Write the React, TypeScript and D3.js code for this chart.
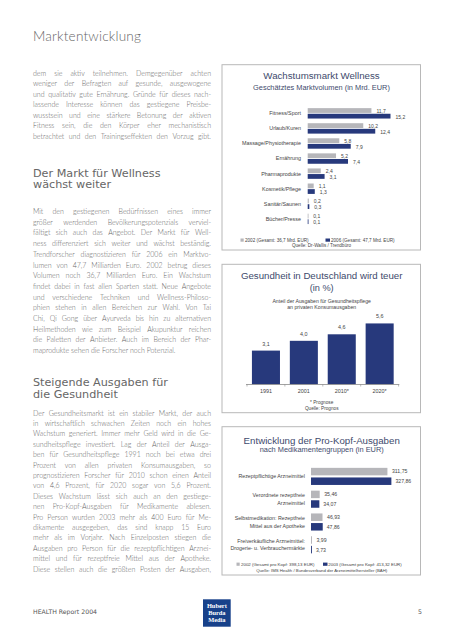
import React from 'react';
import * as d3 from 'd3';

// ---------- text content ----------
const pageTitle = 'Marktentwicklung';
const para1 = [
  'dem sie aktiv teilnehmen. Demgegenüber achten',
  'weniger der Befragten auf gesunde, ausgewogene',
  'und qualitativ gute Ernährung. Gründe für dieses nach-',
  'lassende Interesse können das gestiegene Preisbe-',
  'wusstsein und eine stärkere Betonung der aktiven',
  'Fitness sein, die den Körper eher mechanistisch',
  'betrachtet und den Trainingseffekten den Vorzug gibt.',
];
const heading1 = ['Der Markt für Wellness', 'wächst weiter'];
const para2 = [
  'Mit den gestiegenen Bedürfnissen eines immer',
  'größer werdenden Bevölkerungspotenzials verviel-',
  'fältigt sich auch das Angebot. Der Markt für Well-',
  'ness differenziert sich weiter und wächst beständig.',
  'Trendforscher diagnostizieren für 2006 ein Marktvo-',
  'lumen von 47,7 Milliarden Euro. 2002 betrug dieses',
  'Volumen noch 36,7 Milliarden Euro. Ein Wachstum',
  'findet dabei in fast allen Sparten statt. Neue Angebote',
  'und verschiedene Techniken und Wellness-Philoso-',
  'phien stehen in allen Bereichen zur Wahl. Von Tai',
  'Chi, Qi Gong über Ayurveda bis hin zu alternativen',
  'Heilmethoden wie zum Beispiel Akupunktur reichen',
  'die Paletten der Anbieter. Auch im Bereich der Phar-',
  'maprodukte sehen die Forscher noch Potenzial.',
];
const heading2 = ['Steigende Ausgaben für', 'die Gesundheit'];
const para3 = [
  'Der Gesundheitsmarkt ist ein stabiler Markt, der auch',
  'in wirtschaftlich schwachen Zeiten noch ein hohes',
  'Wachstum generiert. Immer mehr Geld wird in die Ge-',
  'sundheitspflege investiert. Lag der Anteil der Ausga-',
  'ben für Gesundheitspflege 1991 noch bei etwa drei',
  'Prozent von allen privaten Konsumausgaben, so',
  'prognostizieren Forscher für 2010 schon einen Anteil',
  'von 4,6 Prozent, für 2020 sogar von 5,6 Prozent.',
  'Dieses Wachstum lässt sich auch an den gestiege-',
  'nen Pro-Kopf-Ausgaben für Medikamente ablesen.',
  'Pro Person wurden 2003 mehr als 400 Euro für Me-',
  'dikamente ausgegeben, das sind knapp 15 Euro',
  'mehr als im Vorjahr. Nach Einzelposten stiegen die',
  'Ausgaben pro Person für die rezeptpflichtigen Arznei-',
  'mittel und für rezeptfreie Mittel aus der Apotheke.',
  'Diese stellen auch die größten Posten der Ausgaben,',
];

// ---------- chart 1 data ----------
const wellTitle = 'Wachstumsmarkt Wellness';
const wellSubtitle = 'Geschätztes Marktvolumen (in Mrd. EUR)';
const wellCats = [
  'Fitness/Sport',
  'Urlaub/Kuren',
  'Massage/Physiotherapie',
  'Ernährung',
  'Pharmaprodukte',
  'Kosmetik/Pflege',
  'Sanitär/Saunen',
  'Bücher/Presse',
];
const well2002 = [11.7, 10.2, 5.8, 5.2, 2.4, 1.1, 0.2, 0.1];
const well2006 = [15.2, 12.4, 7.9, 7.4, 3.1, 1.3, 0.3, 0.1];
const wellLegend = ['2002 (Gesamt: 36,7 Mrd. EUR)', '2006 (Gesamt: 47,7 Mrd. EUR)'];
const wellSource = 'Quelle: Dr-Wallis / Trendbüro';

// ---------- chart 2 data ----------
const healthTitle = 'Gesundheit in Deutschland wird teuer';
const healthUnit = '(in %)';
const healthSubtitle = ['Anteil der Ausgaben für Gesundheitspflege', 'an privaten Konsumausgaben'];
const healthYears = ['1991', '2001', '2010*', '2020*'];
const healthShare = [3.1, 4.0, 4.6, 5.6];
const healthNotes = ['* Prognose', 'Quelle: Prognos'];

// ---------- chart 3 data ----------
const medTitle = 'Entwicklung der Pro-Kopf-Ausgaben';
const medSubtitle = 'nach Medikamentengruppen (in EUR)';
const medCats = [
  ['Rezeptpflichtige Arzneimittel'],
  ['Verordnete rezeptfreie', 'Arzneimittel'],
  ['Selbstmedikation: Rezeptfreie', 'Mittel aus der Apotheke'],
  ['Freiverkäufliche Arzneimittel:', 'Drogerie- u. Verbrauchermärkte'],
];
const med2002 = [311.75, 35.46, 46.93, 3.99];
const med2003 = [327.86, 34.07, 47.86, 3.73];
const medLegend = ['2002 (Gesamt pro Kopf: 398,13 EUR)', '2003 (Gesamt pro Kopf: 413,32 EUR)'];
const medSource = 'Quelle: IMS Health / Bundesverband der Arzneimittelhersteller (BAH)';

const footerLeft = 'HEALTH Report 2004';
const footerPage = '5';
const logoLines = ['Hubert', 'Burda', 'Media'];

// ---------- styles ----------
const NAVY = '#27397c';
const GREY = '#b6b6ba';
const BODY_FONT = 'Lato, "Open Sans", sans-serif';
const HEAD_FONT = '"DejaVu Sans", Verdana, sans-serif';
const CHART_FONT = '"Liberation Sans", Arial, sans-serif';
const TITLE_COLOR = '#3e4a6c';
const BODY_COLOR = '#666';
const LABEL_COLOR = '#444';

const BODY_SIZE = 7;
const BODY_WEIGHT = 300;
const COL_X = 33;
const COL_W = 178;

let measureCtx: CanvasRenderingContext2D | null = null;
function measure(text: string, font: string): number {
  if (!measureCtx) {
    const c = document.createElement('canvas');
    measureCtx = c.getContext('2d');
  }
  if (!measureCtx) return text.length * 3.5;
  measureCtx.font = font;
  return measureCtx.measureText(text).width;
}

function JustLine({ text, y, justify }: { text: string; y: number; justify: boolean }) {
  const font = `${BODY_WEIGHT} ${BODY_SIZE}px Lato`;
  const words = text.split(' ');
  const common = { fontSize: BODY_SIZE, fontFamily: BODY_FONT, fontWeight: BODY_WEIGHT, fill: BODY_COLOR };
  if (!justify || words.length < 2) {
    return (
      <text x={COL_X} y={y} {...common}>
        {text}
      </text>
    );
  }
  const widths = words.map((w) => measure(w, font));
  const total = widths.reduce((a, b) => a + b, 0);
  const gap = (COL_W - total) / (words.length - 1);
  let cx = COL_X;
  const xs = widths.map((w) => {
    const x0 = cx;
    cx += w + gap;
    return x0;
  });
  return (
    <text y={y} {...common}>
      {words.map((w, i) => (
        <tspan key={i} x={xs[i]}>
          {w}
        </tspan>
      ))}
    </text>
  );
}

function Paragraph({ lines, y0, step, lastJustify }: { lines: string[]; y0: number; step: number; lastJustify: boolean }) {
  return (
    <g>
      {lines.map((l, i) => (
        <JustLine key={i} text={l} y={y0 + i * step} justify={i < lines.length - 1 || lastJustify} />
      ))}
    </g>
  );
}

const fmt1 = (v: number) => v.toFixed(1).replace('.', ',');
const fmt2 = (v: number) => v.toFixed(2).replace('.', ',');

function Box({ x0, y0, x1, y1 }: { x0: number; y0: number; x1: number; y1: number }) {
  return <rect x={x0} y={y0} width={x1 - x0} height={y1 - y0} fill="#fff" stroke="#b8b8b8" strokeWidth={1} />;
}

function WellnessChart() {
  const x = d3.scaleLinear().domain([0, 15.2]).range([307.7, 390.5]);
  const y = d3.scaleBand<string>().domain(wellCats).range([105.8, 226.4]).paddingInner(0.31).paddingOuter(0.155);
  const sub = d3.scaleBand<string>().domain(['a', 'b']).range([0, y.bandwidth()]).paddingInner(0.15);
  const cx = 321.5;
  return (
    <g>
      <Box x0={222} y0={64.7} x1={420.5} y1={250} />
      <text x={cx} y={79} textAnchor="middle" fontSize={9.7} fontFamily={CHART_FONT} fill={TITLE_COLOR}>
        {wellTitle}
      </text>
      <text x={cx} y={89.5} textAnchor="middle" fontSize={7.4} fontFamily={CHART_FONT} fill={TITLE_COLOR}>
        {wellSubtitle}
      </text>
      {wellCats.map((c, i) => {
        const by = y(c) as number;
        const ya = by + (sub('a') as number);
        const yb = by + (sub('b') as number);
        const bh = sub.bandwidth();
        return (
          <g key={c}>
            <text x={301} y={by + y.bandwidth() / 2} dy="0.35em" textAnchor="end" fontSize={5.4} fontFamily={CHART_FONT} fill={LABEL_COLOR}>
              {c}
            </text>
            <rect x={x(0)} y={ya} width={Math.max(0.8, x(well2002[i]) - x(0))} height={bh} fill={GREY} />
            <rect x={x(0)} y={yb} width={Math.max(0.8, x(well2006[i]) - x(0))} height={bh} fill={NAVY} />
            <text x={x(well2002[i]) + 5} y={ya + bh / 2 + 0.6} dy="0.35em" fontSize={5} fontFamily={CHART_FONT} fill={LABEL_COLOR}>
              {fmt1(well2002[i])}
            </text>
            <text x={x(well2006[i]) + 5} y={yb + bh / 2 + 1} dy="0.35em" fontSize={5} fontFamily={CHART_FONT} fill={LABEL_COLOR}>
              {fmt1(well2006[i])}
            </text>
          </g>
        );
      })}
      <rect x={240.5} y={238.5} width={3.2} height={3.2} fill={GREY} />
      <text x={245} y={241.6} fontSize={4.6} fontFamily={CHART_FONT} fill={LABEL_COLOR}>
        {wellLegend[0]}
      </text>
      <rect x={325.5} y={238.5} width={4.5} height={3.2} fill={NAVY} />
      <text x={331} y={241.6} fontSize={4.6} fontFamily={CHART_FONT} fill={LABEL_COLOR}>
        {wellLegend[1]}
      </text>
      <text x={cx} y={247.3} textAnchor="middle" fontSize={4.6} fontFamily={CHART_FONT} fill={LABEL_COLOR}>
        {wellSource}
      </text>
    </g>
  );
}

function HealthChart() {
  const x = d3.scaleBand<string>().domain(healthYears).range([247, 398.6]).paddingInner(0.26).paddingOuter(0.13);
  const y = d3.scaleLinear().domain([0, 6]).range([384.3, 384.3 - 6 * 10.87]);
  const cx = 321.7;
  return (
    <g>
      <Box x0={222} y0={264.3} x1={420.5} y1={412.7} />
      <text x={cx} y={278.8} textAnchor="middle" fontSize={9.7} fontFamily={CHART_FONT} fill={TITLE_COLOR}>
        {healthTitle}
      </text>
      <text x={cx} y={290.6} textAnchor="middle" fontSize={9.2} fontFamily={CHART_FONT} fill={TITLE_COLOR}>
        {healthUnit}
      </text>
      {healthSubtitle.map((s, i) => (
        <text key={i} x={cx} y={302.6 + i * 6} textAnchor="middle" fontSize={5.2} fontFamily={CHART_FONT} fill={LABEL_COLOR}>
          {s}
        </text>
      ))}
      {healthYears.map((yr, i) => {
        const bx = x(yr) as number;
        return (
          <g key={yr}>
            <rect x={bx} y={y(healthShare[i])} width={x.bandwidth()} height={y(0) - y(healthShare[i])} fill={NAVY} />
            <text x={bx + x.bandwidth() / 2} y={y(healthShare[i]) - 5} textAnchor="middle" fontSize={5.4} fontFamily={CHART_FONT} fill={LABEL_COLOR}>
              {fmt1(healthShare[i])}
            </text>
            <text x={bx + x.bandwidth() / 2} y={392.6} textAnchor="middle" fontSize={5.4} fontFamily={CHART_FONT} fill={LABEL_COLOR}>
              {yr}
            </text>
          </g>
        );
      })}
      <line x1={246} x2={399.3} y1={384.5} y2={384.5} stroke="#8a8a8a" strokeWidth={0.8} />
      {[0, 1, 2, 3, 4].map((i) => {
        const tx = 247 + i * x.step();
        return <line key={i} x1={tx} x2={tx} y1={384.5} y2={386.5} stroke="#8a8a8a" strokeWidth={0.6} />;
      })}
      <text x={cx} y={404.4} textAnchor="middle" fontSize={4.7} fontFamily={CHART_FONT} fill={LABEL_COLOR}>
        {healthNotes[0]}
      </text>
      <text x={cx} y={410} textAnchor="middle" fontSize={4.7} fontFamily={CHART_FONT} fill={LABEL_COLOR}>
        {healthNotes[1]}
      </text>
    </g>
  );
}

function MedChart() {
  const x = d3.scaleLinear().domain([0, 330]).range([311, 391.9]);
  const keys = medCats.map((_, i) => String(i));
  const y = d3.scaleBand<string>().domain(keys).range([465, 556.2]).paddingInner(0.25).paddingOuter(0.125);
  const sub = d3.scaleBand<string>().domain(['a', 'b']).range([0, y.bandwidth()]).paddingInner(0.22);
  const cx = 321.7;
  return (
    <g>
      <Box x0={222} y0={426.7} x1={420.5} y1={575} />
      <text x={cx} y={443.6} textAnchor="middle" fontSize={9.7} fontFamily={CHART_FONT} fill={TITLE_COLOR}>
        {medTitle}
      </text>
      <text x={cx} y={452.4} textAnchor="middle" fontSize={7.4} fontFamily={CHART_FONT} fill={TITLE_COLOR}>
        {medSubtitle}
      </text>
      {keys.map((k, i) => {
        const by = y(k) as number;
        const mid = by + y.bandwidth() / 2;
        const ya = by + (sub('a') as number);
        const yb = by + (sub('b') as number);
        const bh = sub.bandwidth();
        const lines = medCats[i];
        const lh = 7.3;
        return (
          <g key={k}>
            {lines.map((l, j) => (
              <text
                key={j}
                x={305}
                y={mid + (j - (lines.length - 1) / 2) * lh}
                dy="0.35em"
                textAnchor="end"
                fontSize={5.3}
                fontFamily={CHART_FONT}
                fill={LABEL_COLOR}
              >
                {l}
              </text>
            ))}
            <rect x={x(0)} y={ya} width={Math.max(0.9, x(med2002[i]) - x(0))} height={bh} fill={GREY} />
            <rect x={x(0)} y={yb} width={Math.max(0.9, x(med2003[i]) - x(0))} height={bh} fill={NAVY} />
            <text x={x(med2002[i]) + 4.5} y={ya + bh / 2} dy="0.35em" fontSize={5.2} fontFamily={CHART_FONT} fill={LABEL_COLOR}>
              {fmt2(med2002[i])}
            </text>
            <text x={x(med2003[i]) + 4} y={yb + bh / 2 + 0.3} dy="0.35em" fontSize={5.2} fontFamily={CHART_FONT} fill={LABEL_COLOR}>
              {fmt2(med2003[i])}
            </text>
          </g>
        );
      })}
      <rect x={236.5} y={562.6} width={3.2} height={3.2} fill={GREY} />
      <text x={241} y={565.6} fontSize={4.4} fontFamily={CHART_FONT} fill={LABEL_COLOR}>
        {medLegend[0]}
      </text>
      <rect x={323} y={562.6} width={4.5} height={3.2} fill={NAVY} />
      <text x={328.3} y={565.6} fontSize={4.4} fontFamily={CHART_FONT} fill={LABEL_COLOR}>
        {medLegend[1]}
      </text>
      <text x={cx} y={571.6} textAnchor="middle" fontSize={4.3} fontFamily={CHART_FONT} fill={LABEL_COLOR}>
        {medSource}
      </text>
    </g>
  );
}

export default function App() {
  return (
    <svg
      width={453}
      height={640}
      viewBox="0 0 453 640"
      style={{ position: 'absolute', left: 0, top: 0, display: 'block', background: '#fff' }}
    >
      <rect x={0} y={0} width={453} height={640} fill="#fff" />
      <text x={COL_X} y={41} fontSize={13.6} fontFamily={BODY_FONT} fontWeight={300} fill="#666" letterSpacing={0.2}>
        {pageTitle}
      </text>
      <Paragraph lines={para1} y0={75.5} step={10.5} lastJustify={true} />
      {heading1.map((h, i) => (
        <text key={i} x={COL_X} y={176.5 + i * 11.6} fontSize={11.2} fontFamily={HEAD_FONT} fill="#666">
          {h}
        </text>
      ))}
      <Paragraph lines={para2} y0={214} step={10.7} lastJustify={false} />
      {heading2.map((h, i) => (
        <text key={i} x={COL_X} y={386 + i * 11.6} fontSize={11.2} fontFamily={HEAD_FONT} fill="#666">
          {h}
        </text>
      ))}
      <Paragraph lines={para3} y0={415.5} step={10.4} lastJustify={true} />

      <WellnessChart />
      <HealthChart />
      <MedChart />

      <text x={COL_X} y={614} fontSize={6.2} fontFamily={HEAD_FONT} fill="#555">
        {footerLeft}
      </text>
      <text x={418} y={614} fontSize={6.2} fontFamily={HEAD_FONT} fill="#555">
        {footerPage}
      </text>
      <rect x={203} y={599.3} width={27.7} height={27.4} fill="#17418a" />
      {logoLines.map((l, i) => (
        <text
          key={i}
          x={216.85}
          y={607.6 + i * 7.4}
          textAnchor="middle"
          fontSize={6.4}
          fontWeight="bold"
          fontFamily='"Liberation Serif", "DejaVu Serif", serif'
          fill="#fff"
        >
          {l}
        </text>
      ))}
    </svg>
  );
}
